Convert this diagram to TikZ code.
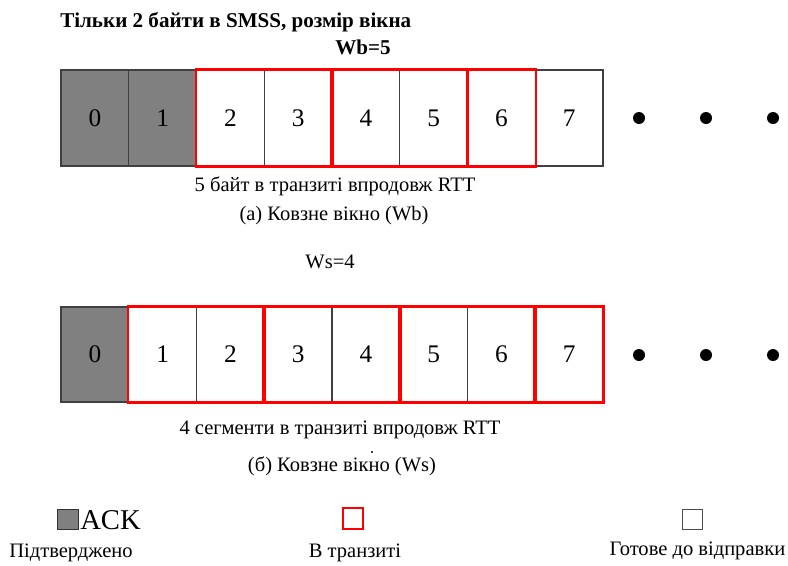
\documentclass[tikz,border=0pt]{standalone}
\usepackage{fontspec}
\setmainfont{Liberation Serif}
\begin{document}
\begin{tikzpicture}[x=0.75pt,y=-0.75pt]
\tikzset{
  cell/.style={draw=black!75, line width=0.8pt, minimum width=50.81pt,
    minimum height=72pt, inner sep=0pt, font=\fontsize{19}{19}\selectfont},
  acked/.style={cell, fill=black!50},
  inflight/.style={draw=red, line width=1.9pt},
  label/.style={inner sep=0pt, font=\fontsize{15.4}{17}\selectfont},
  titletext/.style={inner sep=0pt, font=\bfseries\fontsize{15.8}{17}\selectfont},
  dotmark/.style={circle, fill=black, inner sep=0pt, minimum size=9pt},
  legendbox/.style={minimum width=15.5pt, minimum height=15.5pt, inner sep=0pt}
}
\useasboundingbox (0,0) rectangle (788,565);

% title
\node[titletext, anchor=west] (title) at (60,22) {Тільки 2 байти в SMSS, розмір вікна};
\node[titletext] (wb) at (363,47) {Wb=5};

% (a) sliding window by bytes
\foreach \i in {0,...,7} {
  \ifnum\i<2
    \node[acked] (t\i) at ({61+67.75*(\i+0.5)},118) {\i};
  \else
    \node[cell] (t\i) at ({61+67.75*(\i+0.5)},118) {\i};
  \fi
}
\draw[inflight] (t2.north west) rectangle (t3.south east);
\draw[inflight] (t4.north west) rectangle (t5.south east);
\draw[inflight] (t6.north west) rectangle (t6.south east);
\node[dotmark] (td1) at (639,118) {};
\node[dotmark] (td2) at (706,118) {};
\node[dotmark] (td3) at (773,118) {};
\node[label] (tcap1) at (335,186) {5 байт в транзиті впродовж RTT};
\node[label] (tcap2) at (334,216) {(а) Ковзне вікно (Wb)};

% (b) sliding window by segments
\node[label] (ws) at (330,262) {Ws=4};
\foreach \i in {0,...,7} {
  \ifnum\i<1
    \node[acked, minimum height=71.25pt] (b\i) at ({61+67.75*(\i+0.5)},354.5) {\i};
  \else
    \node[cell, minimum height=71.25pt] (b\i) at ({61+67.75*(\i+0.5)},354.5) {\i};
  \fi
}
\draw[inflight] (b1.north west) rectangle (b2.south east);
\draw[inflight] (b3.north west) rectangle (b4.south east);
\draw[inflight] (b5.north west) rectangle (b6.south east);
\draw[inflight] (b7.north west) rectangle (b7.south east);
\node[dotmark] (bd1) at (639,355) {};
\node[dotmark] (bd2) at (706,355) {};
\node[dotmark] (bd3) at (773,355) {};
\node[label] (bcap1) at (340,430) {4 сегменти в транзиті впродовж RTT};
\fill (372,452) circle (1.2);
\node[label] (bcap2) at (342,466) {(б) Ковзне вікно (Ws)};

% legend
\node[legendbox, draw=black!80, fill=black!50, line width=0.8pt] (lack) at (68,519.5) {};
\node[label, anchor=west, font=\fontsize{21.5}{22}\selectfont] (lacktxt) at (80,520) {ACK};
\node[label] (lacklbl) at (71,553) {Підтверджено};
\node[legendbox, draw=red, line width=1.6pt] (lfly) at (353,518.5) {};
\node[label] (lflylbl) at (355,553) {В транзиті};
\node[legendbox, draw=black!70, line width=0.8pt] (lready) at (692.5,519.5) {};
\node[label] (lreadylbl) at (697.5,551) {Готове до відправки};
\end{tikzpicture}
\end{document}
